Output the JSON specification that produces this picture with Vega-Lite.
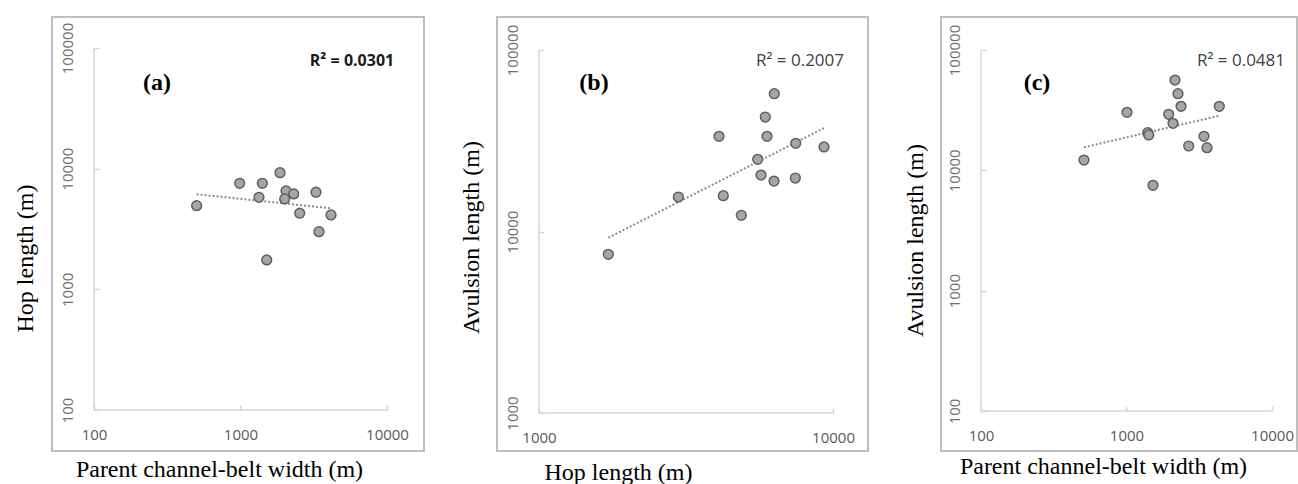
{
  "$schema": "https://vega.github.io/schema/vega-lite/v6.json",
  "background": "white",
  "padding": {"left": 12, "top": 16, "right": 0, "bottom": 0},
  "bounds": "flush",
  "spacing": 73,
  "config": {
    "view": {"stroke": "#bfbfbf", "strokeWidth": 2},
    "axis": {
      "grid": false, "domain": false, "ticks": true, "tickSize": -5, "tickColor": "#d4d4d4", "tickWidth": 1.5,
      "labelFont": "Open Sans", "labelFontSize": 15, "labelOverlap": false, "labelBound": false, "labelFlush": false,
      "format": "d", "titleFont": "Liberation Serif", "titleFontSize": 24, "titleFontWeight": "normal", "titleColor": "#000000"
    },
    "axisX": {"labelColor": "#595959", "labelPadding": 29, "labelBaseline": "middle", "labelAlign": "center", "titleAlign": "center", "titleBaseline": "alphabetic"},
    "axisY": {"labelColor": "#707070", "labelPadding": 32, "labelAngle": 270, "labelAlign": "center", "labelBaseline": "middle", "titleAngle": 270, "titleAlign": "center", "titleBaseline": "alphabetic"}
  },
  "datasets": {
    "pa": [
      {"width": 502, "hop": 4935}, {"width": 987, "hop": 7568}, {"width": 1409, "hop": 7568}, {"width": 1862, "hop": 9266},
      {"width": 1337, "hop": 5794}, {"width": 2045, "hop": 6536}, {"width": 2307, "hop": 6171}, {"width": 2003, "hop": 5610},
      {"width": 3276, "hop": 6377}, {"width": 2536, "hop": 4271}, {"width": 4148, "hop": 4133}, {"width": 3435, "hop": 3006},
      {"width": 1510, "hop": 1753}
    ],
    "ta": [{"width": 502, "hop": 6138}, {"width": 4148, "hop": 4695}],
    "pb": [
      {"hop": 1721, "avulsion": 7489}, {"hop": 2978, "avulsion": 15488}, {"hop": 4095, "avulsion": 33459}, {"hop": 4236, "avulsion": 15747},
      {"hop": 4877, "avulsion": 12285}, {"hop": 6314, "avulsion": 57432}, {"hop": 5885, "avulsion": 42737}, {"hop": 5964, "avulsion": 33459},
      {"hop": 5545, "avulsion": 24996}, {"hop": 5690, "avulsion": 20479}, {"hop": 6300, "avulsion": 18975}, {"hop": 7468, "avulsion": 30620},
      {"hop": 7445, "avulsion": 19715}, {"hop": 9320, "avulsion": 29218}
    ],
    "tb": [{"hop": 1721, "avulsion": 9243}, {"hop": 9320, "avulsion": 37170}],
    "pc": [
      {"width": 510, "avulsion": 12183}, {"width": 1008, "avulsion": 30362}, {"width": 1399, "avulsion": 20544}, {"width": 1421, "avulsion": 19664},
      {"width": 1521, "avulsion": 7510}, {"width": 1950, "avulsion": 29218}, {"width": 2087, "avulsion": 24596}, {"width": 2154, "avulsion": 56320},
      {"width": 2259, "avulsion": 43330}, {"width": 2370, "avulsion": 34050}, {"width": 2676, "avulsion": 15930}, {"width": 3409, "avulsion": 19178},
      {"width": 3575, "avulsion": 15420}, {"width": 4343, "avulsion": 34050}
    ],
    "tc": [{"width": 510, "avulsion": 15537}, {"width": 4343, "avulsion": 28445}]
  },
  "hconcat": [
    {
      "width": 372, "height": 434,
      "encoding": {
        "x": {"field": "width", "type": "quantitative", "scale": {"type": "log", "domain": [51.69, 17887], "nice": false},
              "axis": {"title": "Parent channel-belt width (m)", "values": [100, 1000, 10000], "offset": -41, "titleX": 167, "titleY": 66}},
        "y": {"field": "hop", "type": "quantitative", "scale": {"type": "log", "domain": [45.73, 180640], "nice": false},
              "axis": {"title": "Hop length (m)", "values": [100, 1000, 10000, 100000], "offset": -42, "titleX": -62, "titleY": 241}}
      },
      "layer": [
        {"data": {"name": "ta"}, "mark": {"type": "line", "color": "#8c8c8c", "strokeDash": [2, 2], "strokeWidth": 2}},
        {"data": {"name": "pa"}, "mark": {"type": "circle", "size": 95, "fill": "#a6a6a6", "stroke": "#5f5f5f", "strokeWidth": 1.5, "opacity": 1}},
        {"data": {"values": [{"width": 100, "width2": 10000, "hop": 100}]}, "mark": {"type": "rule", "color": "#d6d6d6", "strokeWidth": 1.5},
         "encoding": {"x2": {"field": "width2"}}},
        {"data": {"values": [{"width": 100, "hop": 100, "hop2": 100000}]}, "mark": {"type": "rule", "color": "#d6d6d6", "strokeWidth": 1.5},
         "encoding": {"y2": {"field": "hop2"}}},
        {"data": {"values": [{"label": "(a)", "width": 269, "hop": 51290}]}, "mark": {"type": "text", "font": "Liberation Serif", "fontWeight": "bold", "fontSize": 24, "align": "center", "baseline": "middle", "color": "#000000"},
         "encoding": {"text": {"field": "label"}}},
        {"data": {"values": [{"label": "R² = 0.0301", "width": 5768, "hop": 78000}]}, "mark": {"type": "text", "font": "Open Sans", "fontWeight": "bold", "fontSize": 16, "align": "center", "baseline": "middle", "color": "#1a1a1a"},
         "encoding": {"text": {"field": "label"}}}
      ]
    },
    {
      "width": 371, "height": 434,
      "encoding": {
        "x": {"field": "hop", "type": "quantitative", "scale": {"type": "log", "domain": [719.7, 13152], "nice": false},
              "axis": {"title": "Hop length (m)", "values": [1000, 10000], "offset": -38, "titleX": 121, "titleY": 66}},
        "y": {"field": "avulsion", "type": "quantitative", "scale": {"type": "log", "domain": [617.6, 152000], "nice": false},
              "axis": {"title": "Avulsion length (m)", "values": [1000, 10000, 100000], "offset": -42, "titleX": -61, "titleY": 220}}
      },
      "layer": [
        {"data": {"name": "tb"}, "mark": {"type": "line", "color": "#8c8c8c", "strokeDash": [2, 2], "strokeWidth": 2}},
        {"data": {"name": "pb"}, "mark": {"type": "circle", "size": 95, "fill": "#a6a6a6", "stroke": "#5f5f5f", "strokeWidth": 1.5, "opacity": 1}},
        {"data": {"values": [{"hop": 1000, "hop2": 10000, "avulsion": 1000}]}, "mark": {"type": "rule", "color": "#d6d6d6", "strokeWidth": 1.5},
         "encoding": {"x2": {"field": "hop2"}}},
        {"data": {"values": [{"hop": 1000, "avulsion": 1000, "avulsion2": 100000}]}, "mark": {"type": "rule", "color": "#d6d6d6", "strokeWidth": 1.5},
         "encoding": {"y2": {"field": "avulsion2"}}},
        {"data": {"values": [{"label": "(b)", "hop": 1538, "avulsion": 65800}]}, "mark": {"type": "text", "font": "Liberation Serif", "fontWeight": "bold", "fontSize": 24, "align": "center", "baseline": "middle", "color": "#000000"},
         "encoding": {"text": {"field": "label"}}},
        {"data": {"values": [{"label": "R² = 0.2007", "hop": 7723, "avulsion": 86980}]}, "mark": {"type": "text", "font": "Open Sans", "fontSize": 17, "align": "center", "baseline": "middle", "color": "#404040"},
         "encoding": {"text": {"field": "label"}}}
      ]
    },
    {
      "width": 356, "height": 434,
      "encoding": {
        "x": {"field": "width", "type": "quantitative", "scale": {"type": "log", "domain": [53.11, 14851], "nice": false},
              "axis": {"title": "Parent channel-belt width (m)", "values": [100, 1000, 10000], "offset": -40, "titleX": 162, "titleY": 62}},
        "y": {"field": "avulsion", "type": "quantitative", "scale": {"type": "log", "domain": [46.5, 188050], "nice": false},
              "axis": {"title": "Avulsion length (m)", "values": [100, 1000, 10000, 100000], "offset": -40, "titleX": -59, "titleY": 223}}
      },
      "layer": [
        {"data": {"name": "tc"}, "mark": {"type": "line", "color": "#8c8c8c", "strokeDash": [2, 2], "strokeWidth": 2}},
        {"data": {"name": "pc"}, "mark": {"type": "circle", "size": 95, "fill": "#a6a6a6", "stroke": "#5f5f5f", "strokeWidth": 1.5, "opacity": 1}},
        {"data": {"values": [{"width": 100, "width2": 10000, "avulsion": 100}]}, "mark": {"type": "rule", "color": "#d6d6d6", "strokeWidth": 1.5},
         "encoding": {"x2": {"field": "width2"}}},
        {"data": {"values": [{"width": 100, "avulsion": 100, "avulsion2": 100000}]}, "mark": {"type": "rule", "color": "#d6d6d6", "strokeWidth": 1.5},
         "encoding": {"y2": {"field": "avulsion2"}}},
        {"data": {"values": [{"label": "(c)", "width": 242.6, "avulsion": 53200}]}, "mark": {"type": "text", "font": "Liberation Serif", "fontWeight": "bold", "fontSize": 24, "align": "center", "baseline": "middle", "color": "#000000"},
         "encoding": {"text": {"field": "label"}}},
        {"data": {"values": [{"label": "R² = 0.0481", "width": 6124, "avulsion": 81000}]}, "mark": {"type": "text", "font": "Open Sans", "fontSize": 17, "align": "center", "baseline": "middle", "color": "#404040"},
         "encoding": {"text": {"field": "label"}}}
      ]
    }
  ]
}
